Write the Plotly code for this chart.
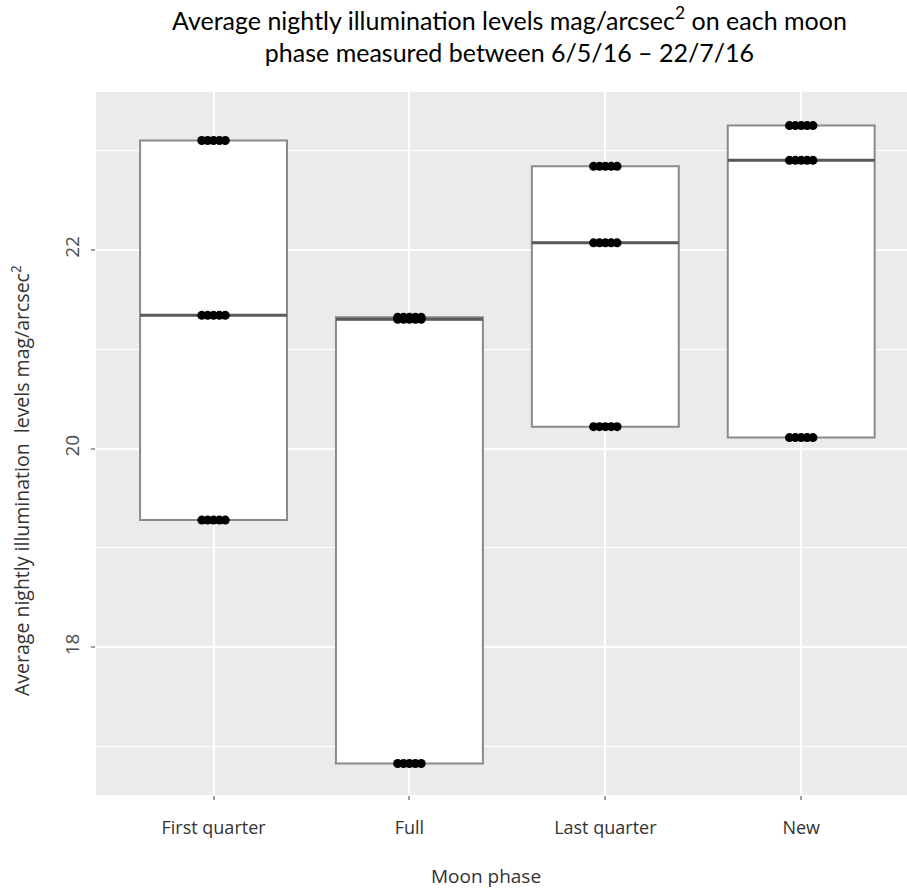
import numpy as np
import plotly.graph_objects as go

# Moon phases and the average nightly sky brightness (mag/arcsec^2) recorded for each
phases = ["First quarter", "Full", "Last quarter", "New"]
first_quarter = [19.28, 21.34, 23.10]
full = [16.83, 21.30, 21.32]
last_quarter = [20.22, 22.07, 22.84]
new = [20.11, 22.90, 23.25]
values = [first_quarter, full, last_quarter, new]

y_ticks = [18, 20, 22]
y_minor = [17, 19, 21, 23]

# horizontal spread of the overlapping point markers around each category
point_offsets = [-0.06, -0.03, 0.0, 0.03, 0.06]

PANEL_BG = "#EBEBEB"
TEXT = "#4D4D4D"

fig = go.Figure()

for i, vals in enumerate(values):
    lo, med, hi = min(vals), float(np.median(vals)), max(vals)
    fig.add_trace(go.Box(
        x=[i], q1=[lo], median=[med], q3=[hi],
        lowerfence=[lo], upperfence=[hi],
        width=0.75, fillcolor="white",
        line=dict(color="#8A8A8A", width=2),
        boxpoints=False, hoverinfo="skip", showlegend=False,
    ))
    # darker median bar
    fig.add_trace(go.Scatter(
        x=[i - 0.375, i + 0.375], y=[med, med], mode="lines",
        line=dict(color="#5A5A5A", width=3), hoverinfo="skip", showlegend=False,
    ))

# jittered observations
px, py = [], []
for i, vals in enumerate(values):
    for v in vals:
        for off in point_offsets:
            px.append(i + off)
            py.append(v)
fig.add_trace(go.Scatter(
    x=px, y=py, mode="markers",
    marker=dict(color="black", size=9, line=dict(width=0)),
    showlegend=False,
))

L, R, T, B = 96, 0, 92, 93
W, H = 907, 888
pw, ph = W - L - R, H - T - B


def paper_x(x):
    return (x - L) / pw


def paper_y(y):
    return (H - B - y) / ph


fig.update_layout(
    width=W, height=H,
    margin=dict(l=L, r=R, t=T, b=B, pad=0),
    paper_bgcolor="white", plot_bgcolor=PANEL_BG,
    font=dict(family="Open Sans", color=TEXT, size=18),
    xaxis=dict(
        range=[-0.6, 3.54], tickmode="array", tickvals=list(range(len(phases))),
        ticktext=phases, showgrid=True, gridcolor="white", gridwidth=2,
        zeroline=False, showline=False, ticks="outside", ticklen=4,
        tickcolor="#A0A0A0", tickwidth=2, ticklabelstandoff=12,
        tickfont=dict(family="Open Sans", size=18, color="#333333"),
    ),
    yaxis=dict(
        range=[16.513, 23.588], tickmode="array", tickvals=y_ticks,
        showgrid=True, gridcolor="white", gridwidth=2, zeroline=False,
        showline=False, ticks="outside", ticklen=4, tickcolor="#A0A0A0",
        tickwidth=2, tickangle=-90, ticklabelstandoff=4,
        tickfont=dict(family="Open Sans", size=19, color=TEXT),
        minor=dict(tickmode="array", tickvals=y_minor, showgrid=True,
                   gridcolor="white", gridwidth=1, ticks=""),
    ),
    annotations=[
        dict(text="Average nightly illumination levels mag/arcsec<sup>2</sup> on each moon<br>"
                  "phase measured between 6/5/16 – 22/7/16",
             xref="paper", yref="paper", x=paper_x(510), y=paper_y(35),
             xanchor="center", yanchor="middle", showarrow=False, align="center",
             font=dict(family="Lato", size=25, color="black")),
        dict(text="Average nightly illumination  levels mag/arcsec<sup>2</sup>",
             xref="paper", yref="paper", x=paper_x(20), y=paper_y(481),
             xanchor="center", yanchor="middle", textangle=-90, showarrow=False,
             font=dict(family="Open Sans", size=19.5, color="#333333")),
        dict(text="Moon phase",
             xref="paper", yref="paper", x=paper_x(486), y=paper_y(876),
             xanchor="center", yanchor="middle", showarrow=False,
             font=dict(family="Open Sans", size=19, color="#333333")),
    ],
)

fig.write_html("out.html")
